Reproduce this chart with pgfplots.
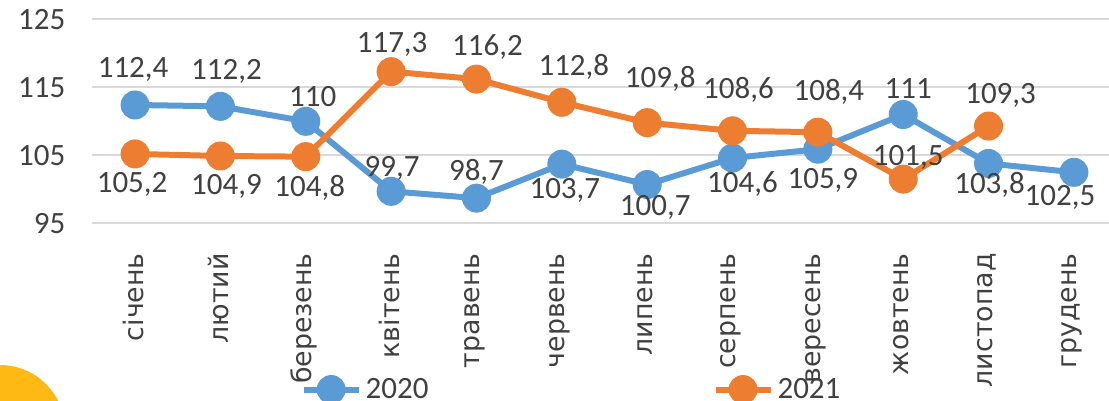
\documentclass[border=0pt]{standalone}
\usepackage{pgfplots}
\pgfplotsset{compat=1.18}
\usepackage{pgfplotstable}
\usepackage{fontspec}
\setmainfont{Carlito}
\newfontfamily\dejavu{DejaVu Sans}
\definecolor{cA}{HTML}{5B9BD5}
\definecolor{cB}{HTML}{ED7D31}
\definecolor{gridc}{HTML}{D9D9D9}
\definecolor{txt}{HTML}{404040}
\definecolor{gold}{HTML}{FFB915}

\pgfplotstableread{
x y lbl dx dy
0 112.4 112,4 -2 27
1 112.2 112,2 6 27
2 110 110 7 15
3 99.7 99,7 1 15
4 98.7 98,7 0 18
5 103.7 103,7 3 -34
6 100.7 100,7 8 -31
7 104.6 104,6 10 -34
8 105.9 105,9 5 -39
9 111 111 5 16
10 103.8 103,8 1 -30
11 102.5 102,5 -14 -33
}\tabA

\pgfplotstableread{
x y lbl dx dy
0 105.2 105,2 -3 -39
1 104.9 104,9 6 -39
2 104.8 104,8 4 -40
3 117.3 117,3 1 19
4 116.2 116,2 11 24
5 112.8 112,8 12 27
6 109.8 109,8 13 35
7 108.6 108,6 6 32
8 108.4 108,4 11 32
9 101.5 101,5 5 14
10 109.3 109,3 12 23
}\tabB

\begin{document}
\begin{tikzpicture}
\useasboundingbox (0,0) rectangle (554.5pt,-200.5pt);
\clip (0,0) rectangle (554.5pt,-200.5pt);
\fill[gold] (0pt,-215pt) circle (32.5pt);
\begin{axis}[
  at={(46.2pt,-111.65pt)}, anchor=south west,
  scale only axis, width=512.1pt, height=102pt,
  xmin=-0.5, xmax=11.5, ymin=95, ymax=125,
  xtick={0,...,11},
  xticklabels={січень,лютий,березень,квітень,травень,червень,липень,серпень,вересень,жовтень,листопад,грудень},
  ytick={95,105,115,125},
  ymajorgrids, grid style={gridc, line width=1pt},
  axis line style={draw=none}, tick style={draw=none},
  /pgf/number format/assume math mode=true,
  yticklabel style={font=\fontsize{15.5}{15.5}\selectfont, text=txt, xshift=-10pt},
  xticklabel style={font=\dejavu\fontsize{13.4}{13.4}\selectfont, text=txt, rotate=90, anchor=east, xshift=-11.5pt, yshift=1pt},
  clip=false,
  legend style={at={(0.4688,-0.815)}, anchor=center, draw=none, fill=none,
    legend columns=2, font=\fontsize{15.5}{15.5}\selectfont, text=txt,
    /tikz/every even column/.append style={column sep=140pt}},
  legend image code/.code={\draw[mark repeat=2, mark phase=2, #1] plot coordinates {(0pt,0pt) (13.75pt,0pt) (27.5pt,0pt)};},
  nodes near coords, point meta=explicit symbolic,
  visualization depends on={\thisrow{dx} \as \dx},
  visualization depends on={\thisrow{dy} \as \dy},
  every node near coord/.style={anchor=base, inner sep=0pt, font=\fontsize{15.5}{15.5}\selectfont, text=txt, xshift=\dx*0.5pt, yshift=\dy*0.5pt},
]
\addplot[cA, line width=3pt, mark=*, mark size=7pt, mark options={fill=cA, draw=cA, line width=0.5pt}] table[x=x, y=y, meta=lbl] {\tabA};
\addlegendentry{2020}
\addplot[cB, line width=3pt, mark=*, mark size=7pt, mark options={fill=cB, draw=cB, line width=0.5pt}] table[x=x, y=y, meta=lbl] {\tabB};
\addlegendentry{2021}
\end{axis}
\end{tikzpicture}
\end{document}
